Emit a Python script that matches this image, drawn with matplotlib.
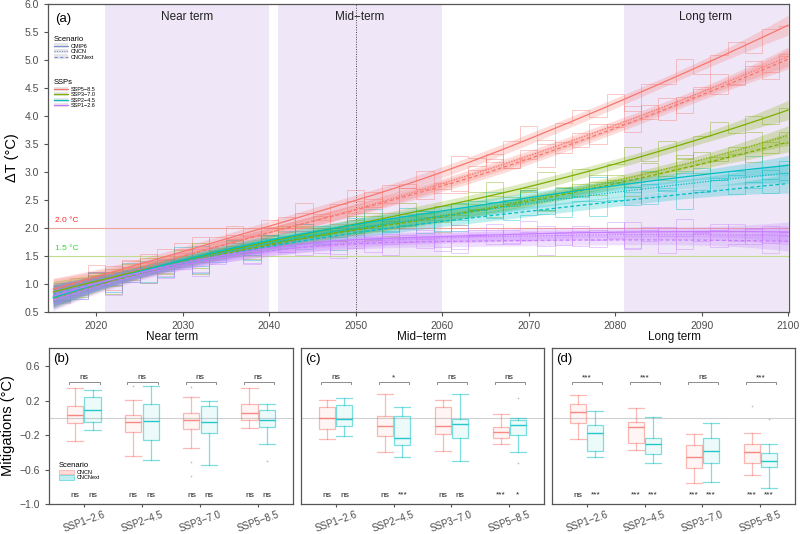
import numpy as np
import matplotlib
matplotlib.use("Agg")
import matplotlib.pyplot as plt
from matplotlib.lines import Line2D
from matplotlib.patches import Patch
from matplotlib.legend_handler import HandlerTuple
from matplotlib.colors import to_rgba

plt.rcParams['font.family'] = ['Liberation Sans', 'DejaVu Sans']

# ---------------- data: panel (a) ----------------
year_start = list(range(2015, 2101, 2))   # 2-year step bins, 2015..2099
ssp_names = ['SSP5−8.5', 'SSP3−7.0', 'SSP2−4.5', 'SSP1−2.6']
scen_names = ['CMIP6', 'CNCN', 'CNCNext']

ssp585_cmip6 = [0.81,1.10,1.34,1.12,1.41,1.20,1.63,1.62,1.40,1.84,2.03,1.86,2.15, 2.00,2.44,2.14,2.43,2.68,2.37,2.77,2.71,3.01,2.70, 3.28,3.25,3.18,3.55,3.83,3.50,3.88,4.10,3.98,4.40, 4.09,4.58,4.57,5.01,4.75,5.09,5.33,5.12,5.56,5.60]
ssp585_cncn = [1.02,0.80,1.14,1.32,1.15,1.54,1.27,1.45,1.84,1.57,1.80,1.64,2.02, 2.20,1.94,2.22,2.00,2.49,2.52,2.45,2.78,2.52,2.80, 2.66,3.11,3.32,3.07,3.23,3.58,3.34,3.69,3.50,3.85, 4.18,3.95,4.33,4.05,4.48,4.75,4.58,4.90,4.78,5.10]
ssp585_cncnext = [0.70,0.93,1.22,0.90,1.43,1.37,1.30,1.73,1.42,1.65,1.88,1.62,2.00, 1.93,2.26,2.25,2.08,2.26,2.64,2.27,2.71,2.69,2.62, 2.62,3.03,3.23,3.08,3.39,3.09,3.54,3.44,3.85,3.80, 3.72,4.20,3.92,4.34,4.52,4.39,4.56,4.98,4.66,5.08]
ssp370_cmip6 = [0.99,0.76,1.09,1.26,1.08,1.46,1.18,1.36,1.73,1.46,1.68,1.51,1.88, 2.04,1.74,2.00,1.76,2.22,2.22,2.13,2.44,2.14,2.40, 2.23,2.65,2.83,2.55,2.68,3.00,2.73,3.05,2.83,3.15, 3.45,3.20,3.55,3.25,3.65,3.90,3.70,4.00,3.85,4.15]
ssp370_cncn = [0.67,0.89,1.16,0.83,1.35,1.27,1.19,1.61,1.29,1.51,1.73,1.45,1.82, 1.72,2.02,1.96,1.76,1.91,2.26,1.86,2.25,2.20,2.10, 2.06,2.42,2.58,2.39,2.65,2.31,2.72,2.58,2.94,2.85, 2.73,3.16,2.85,3.23,3.36,3.19,3.32,3.71,3.34,3.72]
ssp370_cncnext = [0.71,0.98,1.20,0.97,1.24,1.01,1.43,1.40,1.17,1.59,1.76,1.58,1.85, 1.65,2.04,1.69,1.94,2.14,1.78,2.13,2.03,2.27,1.92, 2.43,2.34,2.19,2.50,2.71,2.32,2.63,2.78,2.59,2.95, 2.58,3.00,2.93,3.31,2.99,3.26,3.44,3.17,3.54,3.52]
ssp245_cmip6 = [0.69,0.91,1.19,0.86,1.38,1.31,1.23,1.66,1.33,1.56,1.78,1.51,1.88, 1.78,2.08,2.04,1.84,1.99,2.34,1.94,2.35,2.30,2.20, 2.15,2.49,2.64,2.43,2.68,2.32,2.72,2.56,2.91,2.80, 2.64,3.02,2.66,2.99,3.08,2.86,2.95,3.28,2.87,3.20]
ssp245_cncn = [0.72,0.99,1.21,0.98,1.25,1.03,1.45,1.42,1.19,1.61,1.79,1.61,1.88, 1.68,2.07,1.72,1.97,2.17,1.81,2.16,2.06,2.30,1.95, 2.44,2.33,2.18,2.47,2.66,2.25,2.54,2.69,2.48,2.82, 2.41,2.79,2.68,3.01,2.65,2.89,3.02,2.71,3.04,2.98]
ssp245_cncnext = [0.96,0.73,1.05,1.22,1.04,1.41,1.13,1.30,1.67,1.39,1.61,1.43,1.80, 1.94,1.63,1.87,1.61,2.05,2.04,1.93,2.22,1.91,2.15, 1.94,2.32,2.46,2.14,2.23,2.51,2.20,2.48,2.22,2.50, 2.74,2.42,2.71,2.34,2.68,2.86,2.60,2.83,2.62,2.85]
ssp126_cmip6 = [0.73,1.00,1.21,0.98,1.24,1.01,1.42,1.39,1.15,1.57,1.73,1.55,1.81, 1.58,1.95,1.56,1.78,1.95,1.57,1.89,1.75,1.97,1.59, 2.05,1.90,1.71,1.96,2.12,1.68,1.93,2.04,1.79,2.10, 1.65,2.01,1.86,2.16,1.77,1.97,2.07,1.72,2.03,1.93]
ssp126_cncn = [0.97,0.74,1.05,1.21,1.03,1.39,1.11,1.27,1.63,1.35,1.56,1.38,1.74, 1.86,1.52,1.74,1.46,1.88,1.84,1.71,1.98,1.64,1.86, 1.62,1.97,2.08,1.73,1.79,2.04,1.70,1.95,1.66,1.91, 2.11,1.76,2.02,1.62,1.92,2.07,1.77,1.98,1.73,1.93]
ssp126_cncnext = [0.66,0.87,1.14,0.80,1.31,1.23,1.14,1.55,1.22,1.43,1.64,1.36,1.72, 1.58,1.85,1.76,1.53,1.64,1.95,1.52,1.88,1.80,1.66, 1.56,1.86,1.96,1.71,1.92,1.52,1.87,1.67,1.97,1.82, 1.62,1.97,1.56,1.86,1.91,1.66,1.71,2.00,1.55,1.85]

period_names = ['Near term', 'Mid−term', 'Long term']
period_spans = [(2021, 2040), (2041, 2060), (2081, 2100)]

# ---------------- data: panels (b)-(d) ----------------
box_ssps = ['SSP1−2.6', 'SSP2−4.5', 'SSP3−7.0', 'SSP5−8.5']
# (whislo, q1, median, q3, whishi)
near_cncn    = [(-0.27,-0.06,0.03,0.14,0.35), (-0.44,-0.17,-0.05,0.03,0.21), (-0.35,-0.13,-0.02,0.06,0.24), (-0.12,-0.02,0.06,0.16,0.35)]
near_cncnext = [(-0.14,-0.05,0.09,0.24,0.32), (-0.49,-0.26,-0.04,0.16,0.37), (-0.55,-0.18,-0.05,0.14,0.19), (-0.30,-0.11,-0.03,0.09,0.16)]
mid_cncn     = [(-0.25,-0.13,0.00,0.12,0.21), (-0.40,-0.21,-0.10,0.02,0.28), (-0.39,-0.19,-0.09,0.12,0.21), (-0.30,-0.24,-0.17,-0.11,0.04)]
mid_cncnext  = [(-0.21,-0.09,-0.01,0.15,0.23), (-0.45,-0.32,-0.24,0.02,0.13), (-0.50,-0.24,-0.07,-0.01,0.28), (-0.40,-0.20,-0.08,-0.03,0.00)]
long_cncn    = [(-0.25,-0.06,0.07,0.16,0.27), (-0.37,-0.29,-0.11,-0.05,0.11), (-0.76,-0.58,-0.45,-0.32,-0.19), (-0.66,-0.52,-0.40,-0.30,-0.18)]
long_cncnext = [(-0.46,-0.38,-0.18,-0.08,0.08), (-0.52,-0.42,-0.30,-0.24,0.01), (-0.75,-0.53,-0.39,-0.23,-0.06), (-0.82,-0.57,-0.50,-0.41,-0.30)]
near_fl_cncn = [[], [0.37], [0.36, -0.51, -0.68], []]
near_fl_cncnext = [[], [], [], [-0.50]]
mid_fl_cncn = [[], [], [], []]
mid_fl_cncnext = [[], [], [], [0.23, -0.52]]
long_fl_cncn = [[], [], [], [0.14]]
long_fl_cncnext = [[], [], [], [-0.01]]
near_sig_pair = ['ns', 'ns', 'ns', 'ns']
mid_sig_pair = ['ns', '*', 'ns', 'ns']
long_sig_pair = ['***', '***', 'ns', '***']
near_sig_cncn = ['ns', 'ns', 'ns', 'ns']
near_sig_cncnext = ['ns', 'ns', 'ns', 'ns']
mid_sig_cncn = ['ns', 'ns', 'ns', '***']
mid_sig_cncnext = ['ns', '***', 'ns', '*']
long_sig_cncn = ['ns', '***', '***', '***']
long_sig_cncnext = ['***', '***', '***', '***']

# ---------------- styles ----------------
ssp_colors = {'SSP5−8.5': '#F8766D', 'SSP3−7.0': '#7CAE00', 'SSP2−4.5': '#00BFC4', 'SSP1−2.6': '#C77CFF'}
scen_ls = {'CMIP6': '-', 'CNCN': (0, (1, 1.2)), 'CNCNext': (0, (3, 2))}
PINK = '#F8766D'
CYAN = '#00BFC4'
AXC = '#555555'
TXC = '#4D4D4D'

series = {
    ('SSP5−8.5', 'CMIP6'): ssp585_cmip6, ('SSP5−8.5', 'CNCN'): ssp585_cncn, ('SSP5−8.5', 'CNCNext'): ssp585_cncnext,
    ('SSP3−7.0', 'CMIP6'): ssp370_cmip6, ('SSP3−7.0', 'CNCN'): ssp370_cncn, ('SSP3−7.0', 'CNCNext'): ssp370_cncnext,
    ('SSP2−4.5', 'CMIP6'): ssp245_cmip6, ('SSP2−4.5', 'CNCN'): ssp245_cncn, ('SSP2−4.5', 'CNCNext'): ssp245_cncnext,
    ('SSP1−2.6', 'CMIP6'): ssp126_cmip6, ('SSP1−2.6', 'CNCN'): ssp126_cncn, ('SSP1−2.6', 'CNCNext'): ssp126_cncnext,
}


def loess(x, y, xg, span=0.75):
    x = np.asarray(x, float)
    y = np.asarray(y, float)
    n = len(x)
    q = int(np.floor(span * n))

    def lrow(x0):
        d = np.abs(x - x0)
        h = np.sort(d)[q - 1] * 1.001
        w = np.clip(1 - (d / h) ** 3, 0, None) ** 3
        X = np.vstack([np.ones(n), x - x0, (x - x0) ** 2]).T
        XtW = X.T * w
        return np.linalg.solve(XtW @ X, XtW)[0]

    Lg = np.array([lrow(v) for v in xg])
    Ld = np.array([lrow(v) for v in x])
    res = y - Ld @ y
    sigma = np.sqrt(np.sum(res ** 2) / (n - np.trace(Ld)))
    fit = Lg @ y
    se = sigma * np.sqrt(np.sum(Lg ** 2, axis=1))
    return fit, fit - 1.96 * se, fit + 1.96 * se


fig = plt.figure(figsize=(8, 5.34), dpi=100)

# ---------------- panel (a) ----------------
ax = fig.add_axes([0.06, 0.4157, 0.92625, 0.5768])
for (a0, a1) in period_spans:
    ax.axvspan(a0, a1, color='#EFE7F8', lw=0, zorder=0)
ax.axvline(2050, color='#444444', ls=(0, (1, 1.5)), lw=0.7, zorder=1)
ax.axhline(2.0, color='#F0A29C', lw=0.8, zorder=1)
ax.axhline(1.5, color='#C2DB8E', lw=0.8, zorder=1)

edges = np.array(year_start + [year_start[-1] + 2], float)
mids = edges[:-1] + 1
grid = np.linspace(2015, 2100, 200)
for (ssp, scen), vals in series.items():
    c = ssp_colors[ssp]
    ax.stairs(vals, edges, baseline=None, color=c, alpha=0.4, lw=0.7, zorder=2)
for (ssp, scen), vals in series.items():
    c = ssp_colors[ssp]
    fit, lo, hi = loess(mids, vals, grid)
    ax.fill_between(grid, lo, hi, color=c, alpha=0.25, lw=0, zorder=3)
    ax.plot(grid, fit, color=c, lw=0.9, ls=scen_ls[scen], zorder=4)

ax.set_xlim(2014.4, 2100.1)
ax.set_ylim(0.5, 6.0)
ax.set_xticks(range(2020, 2101, 10))
ax.set_yticks(np.arange(0.5, 6.01, 0.5))
ax.set_yticklabels([f'{v:.1f}' for v in np.arange(0.5, 6.01, 0.5)])
ax.tick_params(labelsize=7.5, labelcolor=TXC, color=AXC, length=3, width=0.8)
for s in ax.spines.values():
    s.set_color(AXC)
    s.set_linewidth(0.9)
ax.set_ylabel('ΔT (°C)', fontsize=10.5, labelpad=4)

for name, (a0, a1) in zip(period_names, period_spans):
    ax.text((a0 + a1) / 2, 5.77, name, ha='center', va='center', fontsize=8.5, color='#222222')
ax.text(0.009, 0.972, '(a)', transform=ax.transAxes, ha='left', va='top', fontsize=9.5)
ax.text(2015.2, 2.07, '2.0 °C', color='#FF2A2A', fontsize=6, va='bottom')
ax.text(2015.2, 1.57, '1.5 °C', color='#2EE02E', fontsize=6, va='bottom')

key_bg = '#E6E6E6'
h1 = [(Patch(facecolor=key_bg, edgecolor='none'), Line2D([], [], color='#7A8FD8', lw=0.8, ls=scen_ls[s])) for s in scen_names]
leg1 = ax.legend(h1, scen_names, title='Scenario', loc='upper left', bbox_to_anchor=(0.004, 0.905),
                 fontsize=4, title_fontsize=5.5, frameon=False, handlelength=2.6, handleheight=0.8,
                 labelspacing=0.08, borderpad=0, handletextpad=0.5, alignment='left',
                 handler_map={tuple: HandlerTuple(ndivide=1)})
ax.add_artist(leg1)
h2 = [(Patch(facecolor=key_bg, edgecolor='none'), Line2D([], [], color=ssp_colors[s], lw=0.9)) for s in ssp_names]
leg2 = ax.legend(h2, ssp_names, title='SSPs', loc='upper left', bbox_to_anchor=(0.004, 0.765),
                 fontsize=4, title_fontsize=5.5, frameon=False, handlelength=2.6, handleheight=0.8,
                 labelspacing=0.08, borderpad=0, handletextpad=0.5, alignment='left',
                 handler_map={tuple: HandlerTuple(ndivide=1)})

# ---------------- panels (b)-(d) ----------------
panels = [
    ('(b)', near_cncn, near_cncnext, near_fl_cncn, near_fl_cncnext, near_sig_pair, near_sig_cncn, near_sig_cncnext, 0.06125),
    ('(c)', mid_cncn, mid_cncnext, mid_fl_cncn, mid_fl_cncnext, mid_sig_pair, mid_sig_cncn, mid_sig_cncnext, 0.37625),
    ('(d)', long_cncn, long_cncnext, long_fl_cncn, long_fl_cncnext, long_sig_pair, long_sig_cncn, long_sig_cncnext, 0.69),
]
pos = np.arange(1, len(box_ssps) + 1)
off = 0.15
bw = 0.28


def mkstats(boxes, fls):
    return [dict(whislo=b[0], q1=b[1], med=b[2], q3=b[3], whishi=b[4], fliers=f) for b, f in zip(boxes, fls)]


for k, (lab, bc, bx, fc, fx, sp, sc, sx, left) in enumerate(panels):
    axb = fig.add_axes([left, 0.0562, 0.30375 if k else 0.305, 0.2921])
    axb.axhline(0, color='#D0D0D0', lw=0.8, zorder=0)
    for stats_src, fl_src, col, sgn in [(bc, fc, PINK, -1), (bx, fx, CYAN, 1)]:
        edge = to_rgba(col, 0.5)
        axb.bxp(mkstats(stats_src, fl_src), positions=pos + sgn * off, widths=bw, capwidths=bw,
                patch_artist=True, manage_ticks=False,
                boxprops=dict(facecolor=to_rgba(col, 0.07), edgecolor=edge, lw=0.9),
                whiskerprops=dict(color=edge, lw=0.9), capprops=dict(color=edge, lw=0.9),
                medianprops=dict(color=to_rgba(col, 0.85), lw=1.0),
                flierprops=dict(marker='o', markersize=1.2, markerfacecolor='#BBBBBB', markeredgecolor='none'))
    for i, p in enumerate(pos):
        x0, x1 = p - off - 0.1, p + off + 0.12
        yb = 0.418
        axb.plot([x0, x0, x1, x1], [yb - 0.03, yb, yb, yb - 0.03], color='#8C8C8C', lw=0.7)
        axb.text(p, yb + 0.008, sp[i], ha='center', va='bottom', fontsize=6, color='#222222')
        axb.text(p - off, -0.9, sc[i], ha='center', va='center', fontsize=6, color='#222222')
        axb.text(p + off, -0.9, sx[i], ha='center', va='center', fontsize=6, color='#222222')
    axb.set_xlim(0.4, 4.6)
    axb.set_ylim(-1.0, 0.81)
    axb.set_xticks(pos)
    axb.set_xticklabels(box_ssps, rotation=20, ha='center', va='top')
    axb.set_yticks([-1.0, -0.6, -0.2, 0.2, 0.6])
    axb.set_yticklabels(['−1.0', '−0.6', '−0.2', '0.2', '0.6'])
    axb.tick_params(labelsize=7.5, labelcolor=TXC, color=AXC, length=3, width=0.8)
    axb.tick_params(axis='x', labelsize=7, length=2.5, pad=1.5)
    if k:
        axb.tick_params(axis='y', left=False, labelleft=False)
    else:
        axb.set_ylabel('Mitigations (°C)', fontsize=10.5, labelpad=3)
        hb = [Patch(facecolor=to_rgba(PINK, 0.25), edgecolor=to_rgba(PINK, 0.5), lw=0.6),
              Patch(facecolor=to_rgba(CYAN, 0.25), edgecolor=to_rgba(CYAN, 0.5), lw=0.6)]
        axb.legend(hb, ['CNCN', 'CNCNext'], title='Scenario', loc='upper left', bbox_to_anchor=(0.03, 0.285),
                   fontsize=4, title_fontsize=5.5, frameon=False, handlelength=2.6, handleheight=0.8,
                   labelspacing=0.08, borderpad=0, handletextpad=0.5, alignment='left')
    for s in axb.spines.values():
        s.set_color(AXC)
        s.set_linewidth(0.9)
    axb.text(0.016, 0.97, lab, transform=axb.transAxes, ha='left', va='top', fontsize=9.5)

for name, xc in zip(period_names, [172, 422, 674]):
    fig.text(xc / 800, 1 - 337 / 534, name, ha='center', va='center', fontsize=8.5, color='#111111')

fig.savefig('out.png', dpi=100)
